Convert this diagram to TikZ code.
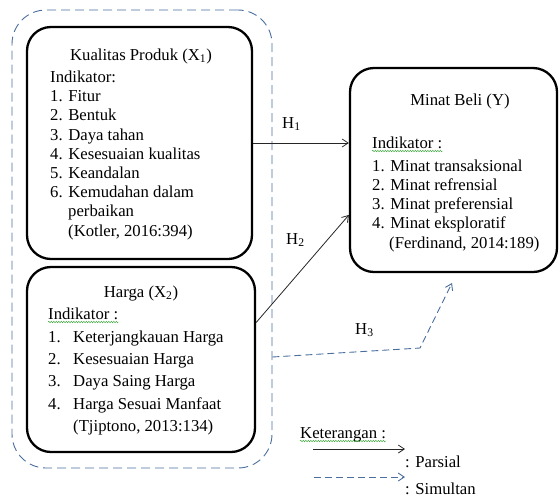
\documentclass[tikz,border=0pt]{standalone}
\usepackage{fontspec}
\setmainfont{Liberation Serif}
\usetikzlibrary{arrows.meta,decorations.pathmorphing}
\definecolor{dashblue}{RGB}{74,110,158}
\definecolor{squig}{RGB}{70,170,70}
\begin{document}
\begin{tikzpicture}[x=1pt,y=-1pt,
  box/.style={draw=black, line width=2.3pt, rounded corners=24pt, inner sep=0pt},
  outerbox/.style={draw=dashblue, line width=0.9pt, dash pattern=on 9pt off 5pt, rounded corners=34pt, inner sep=0pt},
  txt/.style={inner sep=0pt, anchor=base west, font=\fontsize{16.7}{19}\selectfont},
  ctxt/.style={txt, anchor=base},
  conn/.style={draw=black!85, line width=0.8pt, -{Straight Barb[length=6pt,width=8pt]}},
  simconn/.style={draw=dashblue, line width=0.9pt, dash pattern=on 7pt off 4pt, -{Straight Barb[length=6pt,width=8pt]}},
  squiggle/.style={draw=squig, line width=0.5pt, decorate, decoration={snake, amplitude=0.7pt, segment length=2.5pt}}
]
\useasboundingbox (0,0) rectangle (559,499);

% containers
\node[outerbox, minimum width=260pt, minimum height=458pt] (outer) at (142,239) {};
\node[box, minimum width=225pt, minimum height=232pt] (x1) at (139.5,143) {};
\node[box, minimum width=228pt, minimum height=185pt] (harga) at (141,359.5) {};
\node[box, minimum width=207pt, minimum height=204pt] (minat) at (453.5,170) {};

% X1 text
\node[ctxt] (x1t) at (141,60) {Kualitas Produk (X\textsubscript{1})};
\node[txt] (x1i) at (50,82) {Indikator:};
\node[txt] (x1a) at (50,101) {1. Fitur};
\node[txt] (x1b) at (50,120) {2. Bentuk};
\node[txt] (x1c) at (50,140) {3. Daya tahan};
\node[txt] (x1d) at (50,159) {4. Kesesuaian kualitas};
\node[txt] (x1e) at (50,178) {5. Keandalan};
\node[txt] (x1f) at (50,197) {6. Kemudahan dalam};
\node[txt] (x1g) at (68,216) {perbaikan};
\node[txt] (x1s) at (68,236) {(Kotler, 2016:394)};

% X2 text
\node[ctxt] (x2t) at (141,297) {Harga (X\textsubscript{2})};
\node[txt] (x2i) at (48,319) {Indikator :};
\node[txt] (x2n1) at (48,342) {1.};
\node[txt] (x2a) at (73,342) {Keterjangkauan Harga};
\node[txt] (x2n2) at (48,364) {2.};
\node[txt] (x2b) at (73,364) {Kesesuaian Harga};
\node[txt] (x2n3) at (48,386) {3.};
\node[txt] (x2c) at (73,386) {Daya Saing Harga};
\node[txt] (x2n4) at (48,409) {4.};
\node[txt] (x2d) at (73,409) {Harga Sesuai Manfaat};
\node[txt] (x2s) at (73,431) {(Tjiptono, 2013:134)};

% Y text
\node[ctxt] (yt) at (460,105) {Minat Beli (Y)};
\node[txt] (yi) at (372,148) {Indikator :};
\node[txt] (ya) at (372,171) {1. Minat transaksional};
\node[txt] (yb) at (372,190) {2. Minat refrensial};
\node[txt] (yc) at (372,209) {3. Minat preferensial};
\node[txt] (yd) at (372,228) {4. Minat eksploratif};
\node[txt] (ys) at (389,248) {(Ferdinand, 2014:189)};

% squiggles
\draw[squiggle] ([yshift=-3pt]x2i.base west) -- ([yshift=-3pt]x2i.base east);
\draw[squiggle] ([yshift=-3pt]yi.base west) -- ([yshift=-3pt]yi.base east);

% hypotheses labels
\node[txt] (h1) at (282,128) {H\textsubscript{1}};
\node[txt] (h2) at (286,244) {H\textsubscript{2}};
\node[txt] (h3) at (355,334) {H\textsubscript{3}};

% connectors
\draw[conn] (x1.east) -- (x1.east -| minat.west);
\draw[conn] ([yshift=37pt]harga.east) -- ([yshift=-45pt]minat.west);
\coordinate (h3y) at (0,357);
\coordinate (h3m) at (420,348);
\coordinate (h3e) at (452,283);
\draw[simconn] (outer.east |- h3y) -- (h3m) -- (h3e);

% legend
\node[txt] (ket) at (300,438) {Keterangan :};
\draw[squiggle] ([yshift=-3pt]ket.base west) -- ([yshift=-3pt]ket.base east);
\coordinate (l1a) at (313,449);
\coordinate (l1b) at (405,449);
\draw[conn] (l1a) -- (l1b);
\node[txt] (lp) at (405,467) {: Parsial};
\coordinate (l2a) at (314,477);
\coordinate (l2b) at (405,477);
\draw[simconn] (l2a) -- (l2b);
\node[txt] (ls) at (405,494) {: Simultan};
\end{tikzpicture}
\end{document}
